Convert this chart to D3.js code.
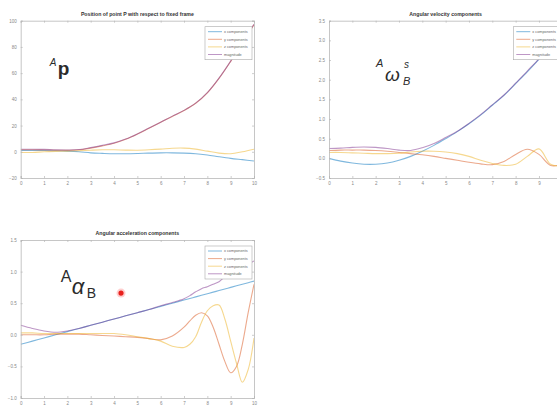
<!DOCTYPE html>
<html>
<head>
<meta charset="utf-8">
<script src="https://cdn.jsdelivr.net/npm/d3@7"></script>
<style>
body { margin: 0; background: #fff; }
text { font-family: "Liberation Sans", Arial, sans-serif; }
</style>
</head>
<body>
<svg id="fig" width="557" height="405"></svg>
<script>
// ---- data ----
const seriesNames = ["x components", "y components", "z components", "magnitude"];
const seriesColors = ["#0072BD", "#D95319", "#EDB120", "#7E2F8E"];

const tGrid = [0, 0.5, 1, 1.5, 2, 2.5, 3, 3.5, 4, 4.5, 5, 5.5, 6, 6.5, 7, 7.5, 8, 8.5, 9, 9.5, 10];

// position of point P
const posX = [1, 1, 1, 0.8, 0.5, 0, -0.8, -1.2, -1.5, -1.5, -1.3, -1, -0.8, -0.8, -1, -1.5, -2.5, -3.8, -5, -6, -7];
const posY = [1.5, 1.5, 1.4, 1.2, 1.2, 1.5, 2.8, 4.5, 6.5, 9.5, 13.5, 18, 22.5, 27, 31.5, 37, 45, 56, 69, 83, 97];
const posZ = [-0.5, -0.5, 0, 0.3, 0.5, 0.8, 1.2, 1.5, 1.5, 1.3, 1.2, 1.5, 2, 2.7, 2.8, 2, 0.5, -1, -1.5, 0, 2];
const posMag = [1.9, 1.9, 1.8, 1.5, 1.4, 1.7, 3.2, 4.9, 6.8, 9.7, 13.6, 18.1, 22.6, 27.2, 31.6, 37.1, 45.1, 56.2, 69.2, 83.3, 97.3];

// angular velocity
const velX = [0, -0.07, -0.12, -0.15, -0.15, -0.12, -0.05, 0.05, 0.18, 0.33, 0.5, 0.68, 0.88, 1.1, 1.35, 1.6, 1.9, 2.2, 2.52, 2.85, 3.2];
const velY = [0.2, 0.21, 0.21, 0.21, 0.2, 0.18, 0.15, 0.12, 0.09, 0.05, 0, -0.05, -0.1, -0.14, -0.16, -0.08, 0.1, 0.23, 0.1, -0.18, -0.15];
const velZ = [0.15, 0.15, 0.14, 0.13, 0.12, 0.12, 0.13, 0.16, 0.18, 0.18, 0.16, 0.12, 0.05, -0.05, -0.13, -0.18, -0.15, 0.05, 0.24, -0.15, -0.2];
const velMag = [0.25, 0.26, 0.28, 0.29, 0.28, 0.25, 0.21, 0.2, 0.27, 0.38, 0.53, 0.69, 0.89, 1.11, 1.36, 1.61, 1.91, 2.22, 2.53, 2.86, 3.22];

// angular acceleration (finer grid at the end)
const tAcc = [0, 0.5, 1, 1.5, 2, 2.5, 3, 3.5, 4, 4.5, 5, 5.5, 6, 6.5, 7, 7.25, 7.5, 7.75, 8, 8.25, 8.5, 8.75, 9, 9.25, 9.5, 9.75, 10];
const accX = [-0.15, -0.1, -0.05, 0, 0.05, 0.1, 0.15, 0.2, 0.25, 0.3, 0.35, 0.4, 0.45, 0.5, 0.55, 0.575, 0.6, 0.625, 0.65, 0.675, 0.7, 0.725, 0.75, 0.775, 0.8, 0.825, 0.85];
const accY = [0, 0, 0, 0.01, 0.01, 0.01, 0, -0.01, -0.02, -0.03, -0.04, -0.06, -0.08, -0.02, 0.12, 0.22, 0.31, 0.35, 0.3, 0.12, -0.15, -0.42, -0.6, -0.5, -0.15, 0.35, 0.8];
const accZ = [0.03, 0.03, 0.02, 0.02, 0.02, 0.02, 0.02, 0.02, 0.02, 0, -0.03, -0.06, -0.1, -0.18, -0.2, -0.15, -0.03, 0.2, 0.38, 0.46, 0.47, 0.25, -0.1, -0.45, -0.75, -0.55, -0.05];
const accMag = [0.15, 0.1, 0.06, 0.04, 0.06, 0.1, 0.15, 0.2, 0.25, 0.3, 0.35, 0.4, 0.46, 0.51, 0.57, 0.62, 0.68, 0.73, 0.76, 0.8, 0.84, 0.92, 1.0, 1.05, 1.1, 1.12, 1.17];
const accMarker = [4.3, 0.66];

const xTicks = [0, 1, 2, 3, 4, 5, 6, 7, 8, 9, 10];
const posTicks = [-20, 0, 20, 40, 60, 80, 100];
const velTicks = [-0.5, 0, 0.5, 1, 1.5, 2, 2.5, 3, 3.5];
const accTicks = [-1, -0.5, 0, 0.5, 1, 1.5];

const svg = d3.select("#fig");

function drawPanel(opt) {
    const g = svg.append("g").attr("transform", `translate(${opt.left},${opt.top})`);
    const w = opt.width, h = opt.height;
    const x = d3.scaleLinear().domain([0, 10]).range([0, w]);
    const y = d3.scaleLinear().domain(opt.yDomain).range([h, 0]);

    g.append("defs").append("clipPath").attr("id", opt.id + "-clip")
        .append("rect").attr("width", w).attr("height", h);

    const line = d3.line()
        .x((d, i) => x(opt.t[i]))
        .y(d => y(d))
        .curve(d3.curveCatmullRom.alpha(0.5));

    const plot = g.append("g").attr("clip-path", `url(#${opt.id}-clip)`);
    opt.series.forEach(function (s, i) {
        plot.append("path")
            .attr("d", line(s))
            .attr("fill", "none")
            .attr("stroke", seriesColors[i])
            .attr("stroke-opacity", 0.5)
            .attr("stroke-width", 1.1);
    });

    // axes, MATLAB style: box with inward ticks
    const xLabel = opt.lastXLabel === false ? (d => d === 10 ? "" : d) : null;
    const axes = [
        [d3.axisBottom(x).tickValues(xTicks).tickSize(-2).tickPadding(4).tickFormat(xLabel), `translate(0,${h})`],
        [d3.axisTop(x).tickValues(xTicks).tickSize(-2).tickFormat(""), "translate(0,0)"],
        [d3.axisLeft(y).tickValues(opt.yTicks).tickSize(-2).tickPadding(4), "translate(0,0)"],
        [d3.axisRight(y).tickValues(opt.yTicks).tickSize(-2).tickFormat(""), `translate(${w},0)`]
    ];
    axes.forEach(function (a) {
        const ax = g.append("g").attr("transform", a[1]).call(a[0]);
        ax.select(".domain").attr("stroke", "#b8b8b8").attr("stroke-width", 0.8);
        ax.selectAll(".tick line").attr("stroke", "#b8b8b8").attr("stroke-width", 0.7);
        ax.selectAll(".tick text").attr("fill", "#888").style("font-size", "4.5px");
    });

    g.append("text")
        .attr("x", w / 2).attr("y", -5)
        .attr("text-anchor", "middle")
        .style("font-size", "5.2px").style("font-weight", "bold")
        .attr("fill", "#333")
        .text(opt.title);

    // legend
    const lg = g.append("g").attr("transform", `translate(${w - 49},6)`);
    lg.append("rect").attr("width", 47).attr("height", 33)
        .attr("fill", "#fff").attr("stroke", "#aaa").attr("stroke-width", 0.6);
    seriesNames.forEach(function (n, i) {
        const yy = 5 + i * 7.6;
        lg.append("line").attr("x1", 3).attr("x2", 17).attr("y1", yy).attr("y2", yy)
            .attr("stroke", seriesColors[i]).attr("stroke-opacity", 0.5).attr("stroke-width", 1);
        lg.append("text").attr("x", 19).attr("y", yy + 1.3)
            .style("font-size", "3.8px").attr("fill", "#666").text(n);
    });

    return {g: g, x: x, y: y};
}

const p1 = drawPanel({
    id: "pos", left: 20.7, top: 20.7, width: 233.3, height: 157.3,
    yDomain: [-20, 100], yTicks: posTicks, t: tGrid,
    series: [posX, posY, posZ, posMag],
    title: "Position of point P with respect to fixed frame"
});
const p2 = drawPanel({
    id: "vel", left: 329, top: 20.7, width: 233.3, height: 157.3,
    yDomain: [-0.5, 3.5], yTicks: velTicks, t: tGrid,
    series: [velX, velY, velZ, velMag],
    title: "Angular velocity components",
    lastXLabel: false
});
const p3 = drawPanel({
    id: "acc", left: 20.7, top: 240, width: 233.3, height: 158,
    yDomain: [-1, 1.5], yTicks: accTicks, t: tAcc,
    series: [accX, accY, accZ, accMag],
    title: "Angular acceleration components"
});

// hand-written annotations
const ink = "#2b2b2b";
p1.g.append("text").attr("x", 29).attr("y", 45).style("font-size", "10px").style("font-style", "italic").attr("fill", ink).text("A");
p1.g.append("text").attr("x", 37).attr("y", 54).style("font-size", "19px").style("font-weight", "bold").attr("fill", ink).text("p");

p2.g.append("text").attr("x", 47).attr("y", 46).style("font-size", "11px").style("font-style", "italic").attr("fill", ink).text("A");
p2.g.append("text").attr("x", 56).attr("y", 60).style("font-size", "19px").style("font-style", "italic").attr("fill", ink).text("ω");
p2.g.append("text").attr("x", 75).attr("y", 47).style("font-size", "10px").style("font-style", "italic").attr("fill", ink).text("s");
p2.g.append("text").attr("x", 74).attr("y", 64).style("font-size", "11px").style("font-style", "italic").attr("fill", ink).text("B");

p3.g.append("text").attr("x", 40).attr("y", 42).style("font-size", "16px").attr("fill", ink).text("A");
p3.g.append("text").attr("x", 51).attr("y", 54).style("font-size", "22px").style("font-style", "italic").attr("fill", ink).text("α");
p3.g.append("text").attr("x", 66).attr("y", 58).style("font-size", "14px").attr("fill", ink).text("B");

// red dot
p3.g.append("circle").attr("cx", p3.x(accMarker[0])).attr("cy", p3.y(accMarker[1]))
    .attr("r", 4.5).attr("fill", "#ff4040").attr("opacity", 0.25);
p3.g.append("circle").attr("cx", p3.x(accMarker[0])).attr("cy", p3.y(accMarker[1]))
    .attr("r", 2.6).attr("fill", "#e8201c");
</script>
</body>
</html>
